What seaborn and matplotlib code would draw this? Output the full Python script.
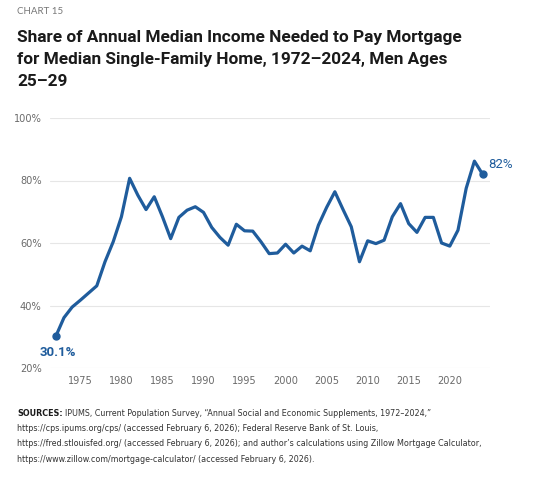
import matplotlib.pyplot as plt
import seaborn as sns
import pandas as pd

# data
years = list(range(1972, 2025))
share = [30.1, 36.1, 39.5, 41.7, 44.0, 46.3, 54.0, 60.4, 68.4, 80.7,
         75.3, 70.7, 74.8, 68.4, 61.4, 68.2, 70.5, 71.6, 69.8, 65.0,
         61.8, 59.3, 66.0, 63.9, 63.8, 60.4, 56.6, 56.8, 59.6, 56.8,
         59.0, 57.5, 65.7, 71.4, 76.4, 70.7, 65.2, 54.0, 60.7, 59.8,
         60.9, 68.4, 72.6, 66.2, 63.4, 68.2, 68.2, 60.0, 59.0, 64.1,
         77.5, 86.2, 82.0]
yticks = [20, 40, 60, 80, 100]
xticks = [1975, 1980, 1985, 1990, 1995, 2000, 2005, 2010, 2015, 2020]

blue = "#1f5c9c"
grey = "#6a6a6a"

sns.set_theme(style="white")
plt.rcParams['font.family'] = ['DejaVu Sans']

df = pd.DataFrame({"year": years, "share": share})

fig = plt.figure(figsize=(5.56, 4.8), dpi=100)
ax = fig.add_axes([50 / 556, 1 - 368 / 480, 440 / 556, 250 / 480])

sns.lineplot(data=df, x="year", y="share", color=blue, linewidth=2.3, ax=ax)
ax.plot([years[0], years[-1]], [share[0], share[-1]], "o", color=blue, markersize=5)

ax.set_xlim(1971.3, 2024.9)
ax.set_ylim(20, 100)
ax.set_yticks(yticks)
ax.set_yticklabels([f"{v}%" for v in yticks])
ax.set_xticks(xticks)
ax.grid(axis="y", color="#e6e6e6", linewidth=0.8)
ax.set_axisbelow(True)
sns.despine(ax=ax, left=True, bottom=True)
ax.tick_params(axis="both", length=0, labelsize=7.8, labelcolor=grey)
for lab in ax.get_xticklabels() + ax.get_yticklabels():
    lab.set_fontfamily(['DejaVu Sans'])
    lab.set_fontstretch("condensed")
ax.tick_params(axis="x", pad=6)
ax.tick_params(axis="y", pad=6)
ax.set_xlabel("")
ax.set_ylabel("")

ax.annotate("30.1%", (years[0], share[0]), xytext=(1.5, -7), textcoords="offset points",
            ha="center", va="top", color=blue, fontsize=9.5, fontweight="bold",
            family=['Roboto', 'DejaVu Sans'])
ax.annotate("82%", (years[-1], share[-1]), xytext=(4, 7), textcoords="offset points",
            ha="left", va="center", color=blue, fontsize=9.5,
            family=['Roboto', 'DejaVu Sans'])

fig.text(17 / 556, 1 - 11 / 480, "CHART 15", fontsize=7, color="#777777",
         va="center", family=['Lato', 'DejaVu Sans'])
fig.text(17 / 556, 1 - 30 / 480,
         "Share of Annual Median Income Needed to Pay Mortgage\n"
         "for Median Single-Family Home, 1972\u20132024, Men Ages\n"
         "25\u201329",
         fontsize=12.4, fontweight="bold", color="#1a1a1a", va="top",
         linespacing=1.6, family=['Roboto', 'DejaVu Sans'])

src_first = ("IPUMS, Current Population Survey, \u201cAnnual Social and Economic "
             "Supplements, 1972\u20132024,\u201d")
src_rest = ("https://cps.ipums.org/cps/ (accessed February 6, 2026); Federal Reserve Bank of St. Louis,\n"
            "https://fred.stlouisfed.org/ (accessed February 6, 2026); and author\u2019s calculations using Zillow Mortgage Calculator,\n"
            "https://www.zillow.com/mortgage-calculator/ (accessed February 6, 2026).")
src_font = dict(fontsize=6.4, family=['DejaVu Sans'], fontstretch="condensed")
lbl = fig.text(17 / 556, 1 - 414 / 480, "SOURCES:", fontweight="bold",
               color="#1a1a1a", va="center", **src_font)
fig.canvas.draw()
bb = lbl.get_window_extent()
fig.text(bb.x1 / fig.bbox.width + 2 / 556, 1 - 414 / 480, src_first,
         color="#333333", va="center", **src_font)
fig.text(17 / 556, 1 - 424 / 480, src_rest, color="#333333", va="top",
         linespacing=1.9, **src_font)

fig.savefig("out.png", dpi=100)
